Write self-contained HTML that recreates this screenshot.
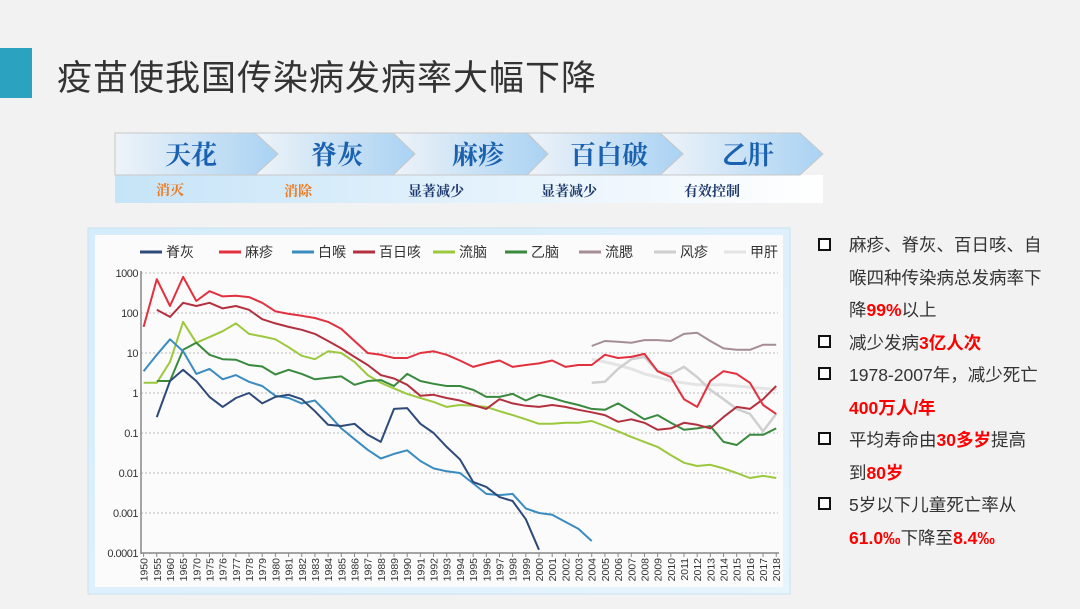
<!DOCTYPE html>
<html><head><meta charset="utf-8"><style>
body{margin:0;width:1080px;height:609px;background:#f2f2f2;position:relative;overflow:hidden;font-family:"Liberation Sans","Noto Sans CJK SC",sans-serif}
.t{position:absolute;white-space:nowrap}
.bl{position:absolute;left:818px;font-size:17.5px;color:#333;line-height:32.5px}
.bl .r{color:#f00;font-weight:bold}
.sq{position:absolute;left:818px;width:9px;height:9px;border:2px solid #111;background:#fff}
</style></head><body>
<div class="t" style="left:0;top:48px;width:32px;height:50px;background:#2ba3c0"></div>
<div class="t" style="left:57px;top:50px;font-size:35px;letter-spacing:1px;color:#333;font-family:'Noto Sans CJK SC',sans-serif">疫苗使我国传染病发病率大幅下降</div>

<svg class="t" style="left:0;top:0" width="1080" height="609">
<defs>
<linearGradient id="ag" x1="0" x2="1"><stop offset="0" stop-color="#eef3f8"/><stop offset="1" stop-color="#a9d2f3"/></linearGradient>
<linearGradient id="rg" x1="0" x2="1"><stop offset="0" stop-color="#c6e4f8"/><stop offset="1" stop-color="#ffffff"/></linearGradient>
<linearGradient id="cg" x1="0" x2="1" y1="0" y2="1"><stop offset="0" stop-color="#d5ecfa"/><stop offset="1" stop-color="#e6f4fc"/></linearGradient>
</defs>
<rect x="115" y="175" width="708" height="28" fill="url(#rg)"/>
<g stroke="#c8c8c8" stroke-width="1" fill="url(#ag)">
<polygon points="660,133 800,133 823,154 800,175 660,175 683,154"/>
<polygon points="527,133 660,133 683,154 660,175 527,175 548,154"/>
<polygon points="393,133 527,133 548,154 527,175 393,175 415,154"/>
<polygon points="255,133 393,133 415,154 393,175 255,175 278,154"/>
<polygon points="115,133 255,133 278,154 255,175 115,175"/>
</g>
<g font-family="'Noto Serif CJK SC',serif" font-size="26" font-weight="bold" fill="#1a62b0" text-anchor="middle">
<text x="191" y="164">天花</text><text x="337" y="164">脊灰</text><text x="478" y="164">麻疹</text><text x="609" y="164">百白破</text><text x="748" y="164">乙肝</text>
</g>
<g font-family="'Noto Serif CJK SC',serif" font-size="14" font-weight="bold">
<text x="156" y="195" fill="#f07a1e">消灭</text><text x="284" y="196" fill="#f07a1e">消除</text>
<text x="408" y="196" fill="#1f3a6e">显著减少</text><text x="541" y="196" fill="#1f3a6e">显著减少</text><text x="684" y="196" fill="#1f3a6e">有效控制</text>
</g>
<rect x="88" y="228" width="702" height="366" fill="url(#cg)" stroke="#c9e2f2"/>
<rect x="95" y="235" width="688" height="352" fill="#fbfbfb"/>
<g id="plot"></g>
</svg>

<div class="sq" style="top:238px"></div>
<div class="sq" style="top:335px"></div>
<div class="sq" style="top:367px"></div>
<div class="sq" style="top:432px"></div>
<div class="sq" style="top:497px"></div>
<div class="bl" style="left:849px;top:229px">麻疹、脊灰、百日咳、自<br>喉四种传染病总发病率下<br>降<span class="r">99%</span>以上<br>减少发病<span class="r">3亿人次</span><br>1978-2007年，减少死亡<br><span class="r">400万人/年</span><br>平均寿命由<span class="r">30多岁</span>提高<br>到<span class="r">80岁</span><br>5岁以下儿童死亡率从<br><span class="r">61.0‰</span>下降至<span class="r">8.4‰</span></div>

<script>
const NS="http://www.w3.org/2000/svg",g=document.getElementById("plot");
function el(n,a,t){const e=document.createElementNS(NS,n);for(const k in a)e.setAttribute(k,a[k]);if(t)e.textContent=t;g.appendChild(e);return e;}
const years=[1950,1955,1960,1965,1970];for(let y=1975;y<=2018;y++)years.push(y);
const X=i=>143.6+i*13.18, Y=v=>393-40*Math.log10(v);
const ix=y=>y<=1970?(y-1950)/5:y-1970;
["1000","100","10","1","0.1","0.01","0.001","0.0001"].forEach((l,k)=>{const y=273+40*k;
 if(k<7)el("line",{x1:141,x2:778,y1:y,y2:y,stroke:"#bbb","stroke-dasharray":"2,2"});
 el("text",{x:138,y:y+4,"font-size":11,"text-anchor":"end",fill:"#333","letter-spacing":"-0.5"},l);});
el("line",{x1:141,x2:141,y1:271,y2:554,stroke:"#888","stroke-width":1.5});
el("line",{x1:141,x2:779,y1:553,y2:553,stroke:"#888","stroke-width":1.5});
years.forEach((yr,i)=>{el("line",{x1:X(i),x2:X(i),y1:553,y2:557,stroke:"#888"});
 el("text",{x:0,y:0,"font-size":10.5,fill:"#333","text-anchor":"end",transform:`translate(${X(i)+4},558) rotate(-90)`},yr);});
function S(pts,col,w){el("polyline",{points:pts.map(([yr,v])=>X(ix(yr)).toFixed(1)+","+Y(v).toFixed(1)).join(" "),fill:"none",stroke:col,"stroke-width":w||2,"stroke-linejoin":"round"});}
function mk(early,from,arr){const r=early.slice();arr.forEach((v,k)=>r.push([from+k,v]));return r;}
S(mk([],2004,[7,6,5,4,3,2.5,2,1.8,1.6,1.6,1.6,1.5,1.4,1.3,1.2]),"#e4e4e4",3);
S(mk([],2004,[1.8,1.9,4,7,8,3.5,3,4.5,2.5,1.2,0.7,0.4,0.3,0.11,0.3]),"#cfcfcf",2.5);
S(mk([],2004,[15,20,19,18,21,21,20,30,32,20,13,12,12,16,16]),"#a58d95",2);
S(mk([[1950,1.8],[1955,1.8],[1960,6],[1965,60],[1970,18]],1975,[25,35,55,30,26,22,14,8.5,7,11,10,6,2.8,1.8,1.3,0.95,0.75,0.6,0.45,0.5,0.48,0.45,0.35,0.28,0.22,0.17,0.17,0.18,0.18,0.2,0.15,0.11,0.08,0.06,0.045,0.028,0.018,0.015,0.016,0.013,0.01,0.0075,0.0085,0.0075]),"#9bc83c");
S(mk([[1955,2],[1960,2],[1965,12],[1970,18]],1975,[9,7,6.8,5,4.6,2.9,3.8,3,2.2,2.4,2.6,1.6,2,2.1,1.5,3,2,1.7,1.5,1.5,1.2,0.8,0.8,0.95,0.65,0.9,0.75,0.6,0.5,0.4,0.38,0.55,0.35,0.22,0.28,0.18,0.12,0.13,0.15,0.06,0.05,0.09,0.09,0.13]),"#3a8a3e");
S(mk([[1950,3.5],[1955,9],[1960,22],[1965,11],[1970,3]],1975,[4,2.2,2.8,1.9,1.5,0.85,0.75,0.55,0.65,0.3,0.13,0.07,0.038,0.023,0.03,0.037,0.02,0.013,0.011,0.01,0.0055,0.003,0.0028,0.003,0.0013,0.001,0.0009,0.0006,0.0004,0.0002]),"#3a8cc0");
S(mk([[1955,0.25],[1960,2],[1965,3.8],[1970,2]],1975,[0.8,0.45,0.75,1,0.55,0.8,0.9,0.7,0.35,0.16,0.15,0.17,0.09,0.06,0.4,0.42,0.17,0.1,0.045,0.022,0.006,0.0045,0.0025,0.002,0.0007,0.00012]),"#2e4a7a");
S(mk([[1955,120],[1960,80],[1965,180],[1970,150]],1975,[180,130,150,120,70,55,45,38,30,20,13,8,5,2.8,2.3,1.6,0.85,0.9,0.75,0.65,0.5,0.4,0.7,0.55,0.48,0.45,0.5,0.45,0.38,0.33,0.28,0.19,0.22,0.18,0.12,0.13,0.18,0.16,0.13,0.25,0.45,0.4,0.7,1.5]),"#b3303f");
S(mk([[1950,45],[1955,700],[1960,150],[1965,800],[1970,200]],1975,[350,260,270,250,180,110,95,85,75,60,40,20,10,9,7.5,7.5,10,11,9,6.5,4.5,5.5,6.5,4.5,5,5.5,6.5,4.5,5,5,9,7.5,8,9.5,3.5,2.5,0.7,0.45,2,3.5,3,1.8,0.5,0.3]),"#e2303e");
[["脊灰",140,"#2e4a7a"],["麻疹",219,"#e2303e"],["白喉",292,"#3a8cc0"],["百日咳",353,"#b3303f"],["流脑",433,"#9bc83c"],["乙脑",505,"#3a8a3e"],["流腮",579,"#a58d95"],["风疹",654,"#cfcfcf"],["甲肝",724,"#e4e4e4"]].forEach(([t,x,c])=>{
 el("line",{x1:x,x2:x+22,y1:252,y2:252,stroke:c,"stroke-width":3});
 el("text",{x:x+26,y:257,"font-size":14,fill:"#333"},t);});
</script>
</body></html>
